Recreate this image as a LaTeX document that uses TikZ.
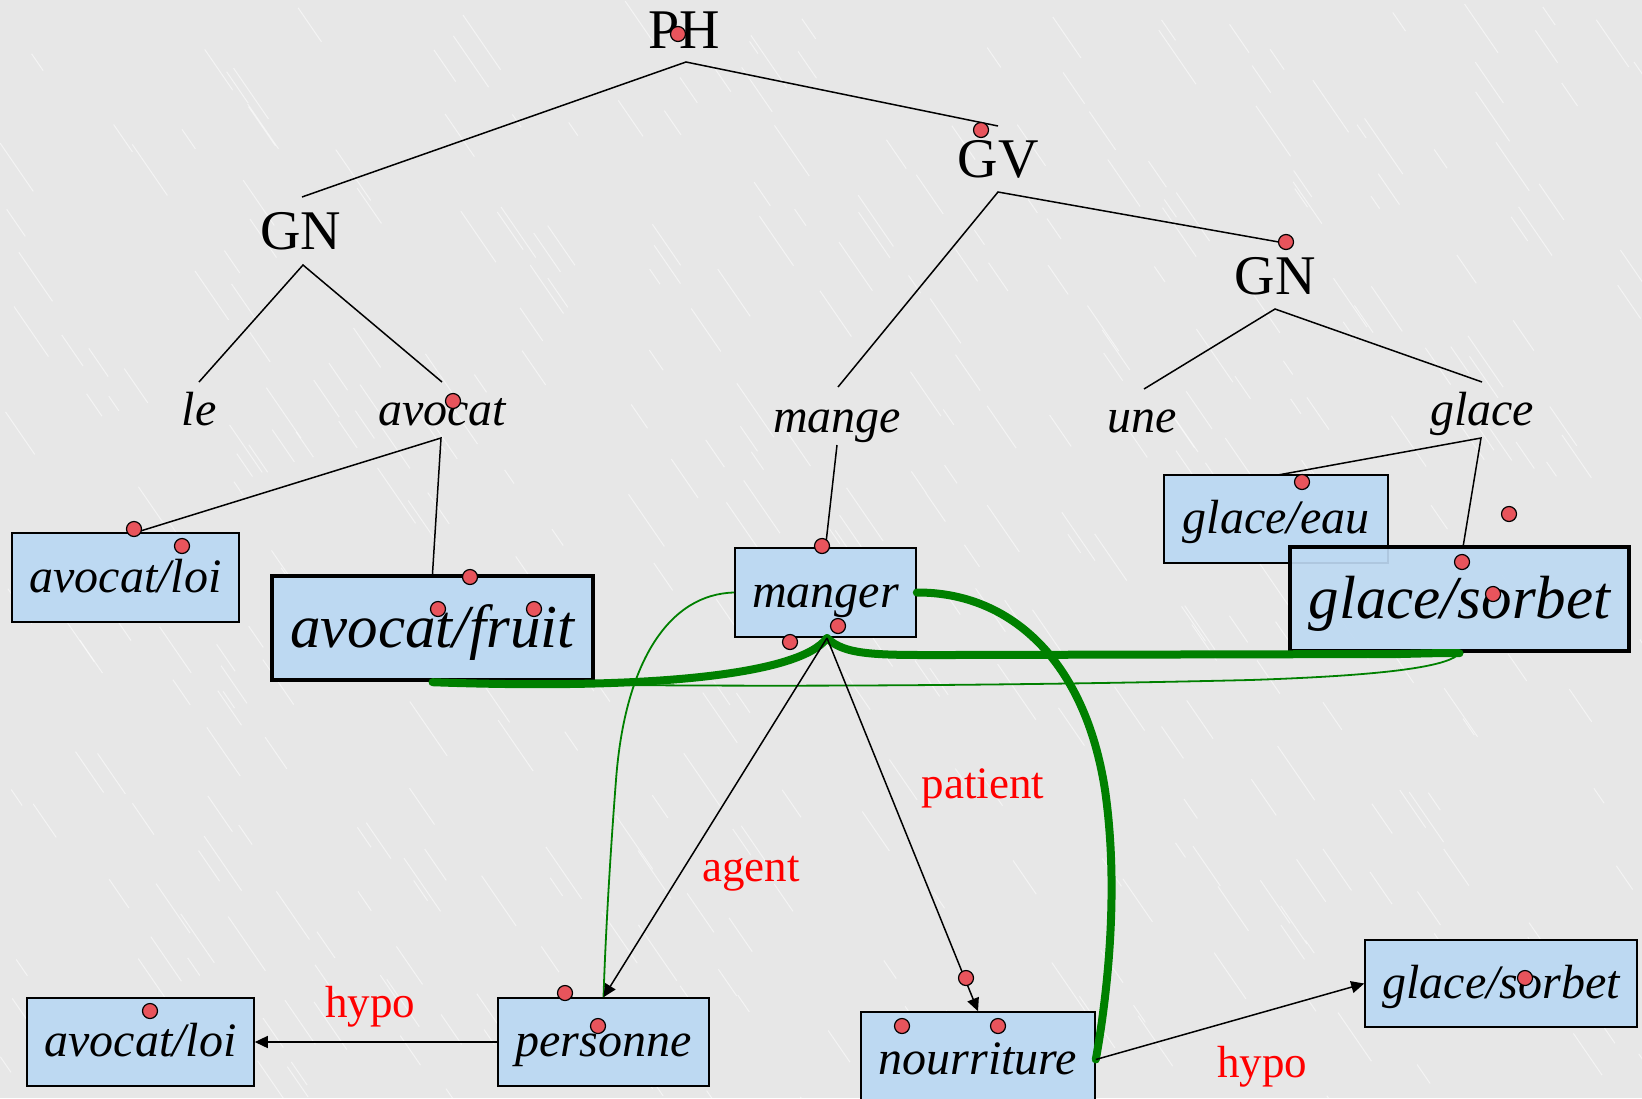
\documentclass[tikz,border=0pt]{standalone}
\usepackage{fontspec}
\setmainfont{Liberation Serif}
\usetikzlibrary{arrows.meta}
\definecolor{bg}{RGB}{231,231,231}
\definecolor{boxblue}{RGB}{189,217,242}
\definecolor{dotred}{RGB}{232,84,92}
\definecolor{grn}{RGB}{0,128,0}
\definecolor{lbl}{RGB}{255,0,0}
\newcommand\reddot[1]{\draw[dotst] #1 circle (7.5);}
\begin{document}
\begin{tikzpicture}[x=0.5pt,y=-0.5pt,
 tree/.style={draw=black, line width=0.75pt},
 box/.style={draw=black, line width=0.8pt, fill=boxblue, inner sep=0pt, text height=19pt, text depth=4.5pt, font=\fontsize{24pt}{28pt}\selectfont\itshape},
 bigbox/.style={box, line width=2.2pt, text height=24pt, text depth=5pt, font=\fontsize{30.5pt}{34pt}\selectfont\itshape},
 cat/.style={font=\fontsize{28pt}{32pt}\selectfont, inner sep=0pt},
 word/.style={font=\fontsize{24pt}{28pt}\selectfont\itshape, inner sep=0pt, anchor=base},
 rel/.style={text=lbl, font=\fontsize{22.5pt}{26pt}\selectfont, inner sep=0pt},
 arr/.style={draw=black, line width=0.75pt, -{Triangle[length=6.5pt,width=6pt]}},
 gthick/.style={draw=grn, line width=4pt, line cap=round},
 gthin/.style={draw=grn, line width=0.9pt},
 dotst/.style={fill=dotred, draw=black, line width=0.6pt},
]
% background
\fill[bg] (0,0) rectangle (1642,1098);
\useasboundingbox (0,0) rectangle (1642,1098);
\pgfmathsetseed{7}
\foreach \i in {1,...,420}{
  \pgfmathsetmacro\sx{rnd*1642}
  \pgfmathsetmacro\sy{rnd*1098}
  \pgfmathsetmacro\len{15+rnd*55}
  \draw[white, opacity=0.55, line width=0.5pt] (\sx,\sy) -- ++(\len*0.55,\len*0.8);
}

% tree labels
\node[cat] (PH) at (684,30) {PH};
\node[cat] (GV) at (998,159) {GV};
\node[cat] (GNl) at (301,231) {GN};
\node[cat] (GNr) at (1275,276) {GN};
\node[word] (le) at (199,425) {le};
\node[word] (avocat) at (442,425) {avocat};
\node[word] (mange) at (837,432) {mange};
\node[word] (une) at (1142,432) {une};
\node[word] (glace) at (1482,425) {glace};

% junction coordinates
\coordinate (phA) at (686,62);
\coordinate (gnlT) at (302,197);
\coordinate (gvT) at (998,126);
\coordinate (gvA) at (998,192);
\coordinate (mangeT) at (838,387);
\coordinate (gnrT) at (1290,244);
\coordinate (gnlA) at (303,265);
\coordinate (leT) at (199,382);
\coordinate (avocatT) at (442,382);
\coordinate (gnrA) at (1275,309);
\coordinate (uneT) at (1144,389);
\coordinate (glaceT) at (1482,382);
\coordinate (avocatB) at (441,438);
\coordinate (mangeB) at (837,445);
\coordinate (glaceB) at (1481,438);
\coordinate (loiT) at (134,533);
\coordinate (eauT) at (1278,475);
\coordinate (sorbT) at (1463,547);

\draw[tree] (gnlT) -- (phA) -- (gvT);
\draw[tree] (mangeT) -- (gvA) -- (gnrT);
\draw[tree] (leT) -- (gnlA) -- (avocatT);
\draw[tree] (uneT) -- (gnrA) -- (glaceT);

% boxes
\node[box, minimum width=113.5pt, minimum height=44.5pt] (loiA) at (125.5,577.5) {avocat/loi};
\node[bigbox, minimum width=160.5pt, minimum height=52pt] (fruit) at (432.5,628) {avocat/fruit};
\node[box, minimum width=90.5pt, minimum height=44.5pt] (manger) at (825.5,592.5) {manger};
\node[box, minimum width=112pt, minimum height=44pt] (eau) at (1276,519) {glace/eau};
\node[bigbox, fill opacity=0.92, text opacity=1, minimum width=169.5pt, minimum height=52pt] (sorbA) at (1459.5,599) {glace/sorbet};
\node[box, minimum width=113.5pt, minimum height=44pt] (loiB) at (140.5,1042) {avocat/loi};
\node[box, minimum width=105.5pt, minimum height=44pt] (personne) at (603.5,1042) {personne};
\node[box, minimum width=117pt, minimum height=47.5pt] (nourriture) at (978,1059.5) {nourriture};
\node[box, minimum width=136pt, minimum height=43.5pt] (sorbB) at (1501,983.5) {glace/sorbet};

% lexical links
\draw[tree] (loiT) -- (avocatB) -- (fruit.north);
\draw[tree] (mangeB) -- (manger.north);
\draw[tree] (eauT) -- (glaceB) -- (sorbT);

% green curves
\coordinate (mB) at (827,638);
\draw[gthin] (fruit.south) .. controls (700,688) and (1000,686) .. (1250,680)
   .. controls (1400,675) and (1450,665) .. (sorbA.south);
\draw[gthin] (manger.west) .. controls (670,594) and (625,660) .. (616,780)
   .. controls (609,870) and (605,950) .. (personne.north);
\draw[gthick] (fruit.south) .. controls (650,690) and (800,675) .. (mB);
\draw[gthick] (mB) .. controls (845,656) and (880,655) .. (950,655) -- (1400,654)
   .. controls (1440,653) .. (sorbA.south);
\draw[gthick] (manger.east) .. controls (1010,592) and (1085,660) .. (1105,790)
   .. controls (1118,880) and (1110,980) .. (nourriture.east);

% relations
\draw[arr] (mB) -- (personne.north);
\draw[arr] (mB) -- (nourriture.north);
\draw[arr] (personne.west) -- (loiB.east);
\draw[arr] (nourriture.east) -- (sorbB.west);
\node[rel] (agent) at (751,874) {agent};
\node[rel] (patient) at (983,788) {patient};
\node[rel] (hypoA) at (370,1007) {hypo};
\node[rel] (hypoB) at (1262,1067) {hypo};

% red dots
\reddot{(678,34)}
\reddot{(981,130)}
\reddot{(1286,242)}
\reddot{(453,401)}
\reddot{(134,529)}
\reddot{(182,546)}
\reddot{(470,577)}
\reddot{(438,609)}
\reddot{(534,609)}
\reddot{(822,546)}
\reddot{(790,642)}
\reddot{(838,626)}
\reddot{(1302,482)}
\reddot{(1509,514)}
\reddot{(1462,562)}
\reddot{(1493,594)}
\reddot{(565,993)}
\reddot{(598,1026)}
\reddot{(150,1011)}
\reddot{(966,978)}
\reddot{(902,1026)}
\reddot{(998,1026)}
\reddot{(1525,978)}
\end{tikzpicture}
\end{document}
